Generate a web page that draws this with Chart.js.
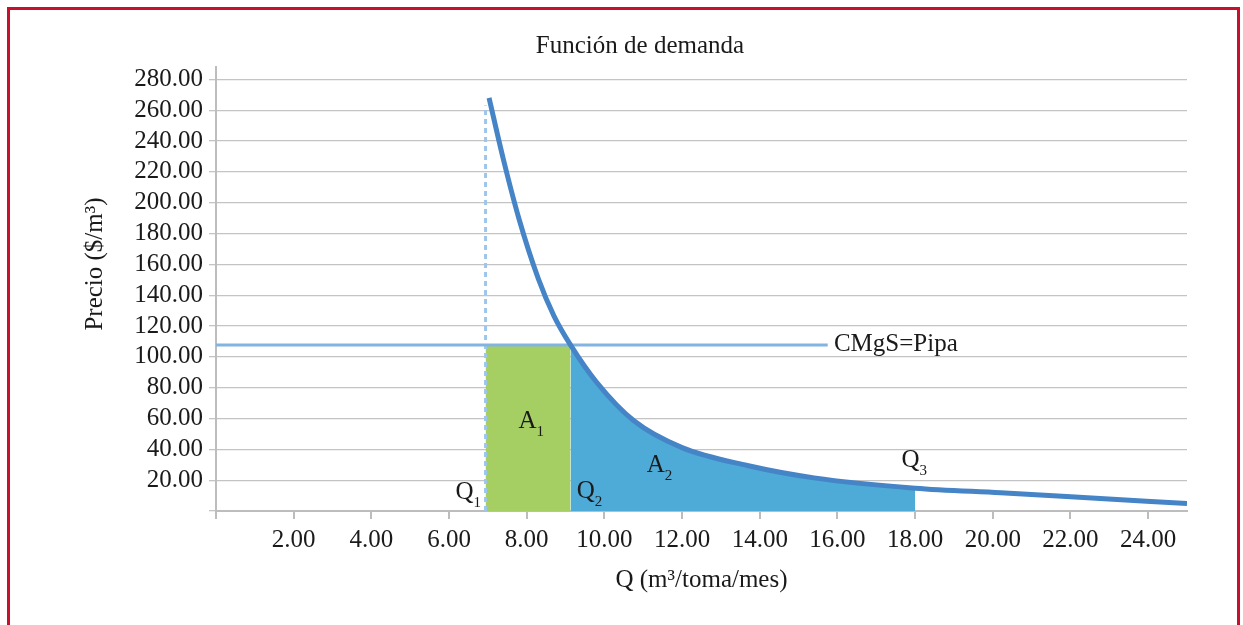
<!DOCTYPE html>
<html>
<head>
<meta charset="utf-8">
<script src="https://cdn.jsdelivr.net/npm/chart.js@4.4.0/dist/chart.umd.min.js"></script>
<style>
  html, body { margin:0; padding:0; background:#fff; }
  #wrap { position:relative; width:1243px; height:625px; overflow:hidden; }
  #frame { position:absolute; left:7px; top:7px; width:1233px; height:700px; border:3px solid #c8102e; border-bottom:none; box-sizing:border-box; }
  #box { position:absolute; left:0; top:0; width:1243px; height:625px; }
</style>
</head>
<body>
<div id="wrap"><div id="frame"></div><div id="box"><canvas id="chart"></canvas></div></div>
<script>
// curva de demanda
const demandQ = [7.03, 7.4, 7.8, 8.3, 8.7, 9.13, 9.8, 10.76, 12.0, 13.68, 15.4, 18.0, 20.2, 21.9, 25.0];
const demandP = [268, 228, 189.6, 150.6, 126.6, 107.6, 83.5, 58.5, 41.1, 29.5, 21.5, 14.8, 11.8, 9.4, 4.8];

const cmgs = 107.6;      // CMgS=Pipa
const cmgsEnd = 15.75;   // donde termina la linea
const q1 = 6.94;
const q2 = 9.13;
const q3 = 18.0;
const dashTop = 263;

const xTicks = [0, 2, 4, 6, 8, 10, 12, 14, 16, 18, 20, 22, 24];
const yTicks = [0, 20, 40, 60, 80, 100, 120, 140, 160, 180, 200, 220, 240, 260, 280];

const FONT = "'Liberation Serif', 'Times New Roman', serif";
Chart.defaults.font.family = FONT;
Chart.defaults.font.size = 25;
Chart.defaults.color = '#1a1a1a';

const curvePts = demandQ.map((q, i) => ({x: q, y: demandP[i]}));
const a2Pts = curvePts.filter(p => p.x >= q2 && p.x <= q3);

// etiquetas de texto (A1, A2, Q1...)
const notes = [
  {t: 'A', s: '1', x: 8.02, y: 58.4},
  {t: 'A', s: '2', x: 11.32, y: 29.8},
  {t: 'Q', s: '1', x: 6.40, y: 12.3},
  {t: 'Q', s: '2', x: 9.52, y: 13},
  {t: 'Q', s: '3', x: 17.88, y: 33}
];

const textPlugin = {
  id: 'textos',
  afterDatasetsDraw(chart) {
    const c = chart.ctx, xs = chart.scales.x, ys = chart.scales.y;
    c.save();
    c.fillStyle = '#1a1a1a';
    c.textBaseline = 'middle';
    notes.forEach(n => {
      const px = xs.getPixelForValue(n.x), py = ys.getPixelForValue(n.y);
      c.font = '25px ' + FONT;
      c.textAlign = 'center';
      c.fillText(n.t, px, py);
      const w = c.measureText(n.t).width;
      c.font = '15px ' + FONT;
      c.textAlign = 'left';
      c.fillText(n.s, px + w / 2, py + 11);
    });
    c.font = '25px ' + FONT;
    c.textAlign = 'left';
    c.fillText('CMgS=Pipa', xs.getPixelForValue(15.91), ys.getPixelForValue(108.3));
    // titulo eje y
    c.translate(95, 264);
    c.rotate(-Math.PI / 2);
    c.textAlign = 'center';
    c.fillText('Precio ($/m³)', 0, 0);
    c.restore();
  }
};

new Chart(document.getElementById('chart'), {
  type: 'line',
  data: {
    datasets: [
      {
        data: curvePts,
        borderColor: '#4584c6',
        borderWidth: 5,
        cubicInterpolationMode: 'monotone',
        pointRadius: 0,
        fill: false,
        order: 1
      },
      {
        data: [{x: 0, y: cmgs}, {x: cmgsEnd, y: cmgs}],
        borderColor: '#82b4e2',
        borderWidth: 3,
        pointRadius: 0,
        fill: false,
        order: 2
      },
      {
        data: [{x: q1, y: 0}, {x: q1, y: dashTop}],
        borderColor: '#9dc6ea',
        borderWidth: 3,
        borderDash: [5, 4],
        pointRadius: 0,
        fill: false,
        order: 3
      },
      {
        data: a2Pts,
        borderWidth: 0,
        borderColor: 'rgba(0,0,0,0)',
        backgroundColor: '#4eaad6',
        cubicInterpolationMode: 'monotone',
        pointRadius: 0,
        fill: 'origin',
        order: 4
      },
      {
        data: [{x: q1, y: cmgs}, {x: q2, y: cmgs}],
        borderWidth: 0,
        borderColor: 'rgba(0,0,0,0)',
        backgroundColor: '#a5ce63',
        pointRadius: 0,
        fill: 'origin',
        order: 5
      }
    ]
  },
  options: {
    responsive: true,
    maintainAspectRatio: false,
    animation: false,
    layout: {padding: {left: 93, right: 56, top: 0, bottom: 0}},
    plugins: {
      legend: {display: false},
      tooltip: {enabled: false},
      title: {
        display: true,
        text: 'Función de demanda',
        font: {size: 25, weight: 'normal'},
        color: '#1a1a1a',
        padding: {top: 31, bottom: 6}
      }
    },
    scales: {
      x: {
        type: 'linear',
        min: 0,
        max: 25,
        afterBuildTicks: s => { s.ticks = xTicks.map(v => ({value: v})); },
        afterFit: s => { s.height = 114; },
        grid: {drawOnChartArea: false, tickLength: 8, color: '#bdbdbd', lineWidth: 2},
        border: {color: '#bdbdbd', width: 2},
        ticks: {
          padding: 6,
          maxRotation: 0,
          autoSkip: false,
          callback: v => v === 0 ? '' : v.toFixed(2)
        },
        title: {
          display: true,
          text: 'Q (m³/toma/mes)',
          font: {size: 25},
          color: '#1a1a1a',
          padding: {top: 0, bottom: 30}
        }
      },
      y: {
        min: 0,
        max: 288,
        afterBuildTicks: s => { s.ticks = yTicks.map(v => ({value: v})); },
        afterFit: s => { s.width = 123; },
        grid: {color: '#c4c4c4', lineWidth: 1.3, tickLength: 7},
        border: {color: '#bdbdbd', width: 2},
        ticks: {
          padding: 6,
          autoSkip: false,
          callback: v => v === 0 ? '' : v.toFixed(2)
        }
      }
    }
  },
  plugins: [textPlugin]
});
</script>
</body>
</html>
